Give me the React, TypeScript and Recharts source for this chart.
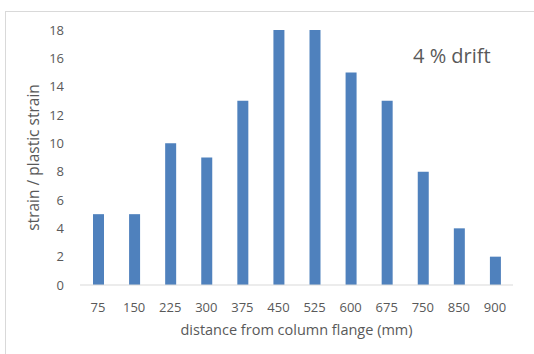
import React from 'react';
import { BarChart, Bar, XAxis, YAxis } from 'recharts';

const categories = ['75', '150', '225', '300', '375', '450', '525', '600', '675', '750', '850', '900'];
const strainRatio = [5, 5, 10, 9, 13, 18, 18, 15, 13, 8, 4, 2];
const yTicks = [0, 2, 4, 6, 8, 10, 12, 14, 16, 18];

const data = categories.map((c, i) => ({ dist: c, value: strainRatio[i] }));

const FONT = '"Open Sans", "Noto Sans", sans-serif';
const GREY = '#595959';

export default function App() {
  return (
    <div style={{ position: 'fixed', left: 0, top: 0, width: 534, height: 354, overflow: 'hidden', background: '#fff', fontFamily: FONT }}>
      <div style={{ position: 'absolute', left: 5, top: 11, width: 600, height: 400, border: '1px solid #d9d9d9', boxSizing: 'border-box' }} />
      <BarChart
        width={534}
        height={354}
        data={data}
        margin={{ top: 30, right: 21, bottom: 19, left: 20 }}
        barCategoryGap="0%"
        style={{ position: 'absolute', left: 0, top: 0 }}
      >
        <XAxis
          dataKey="dist"
          height={50}
          axisLine={{ stroke: '#d9d9d9' }}
          tickLine={false}
          tick={{ fill: GREY, fontSize: 13, fontFamily: FONT }}
          tickMargin={12}
          label={{ value: 'distance from column flange (mm)', position: 'insideBottom', offset: 0, fill: GREY, fontSize: 14.5, fontFamily: FONT }}
        />
        <YAxis
          width={60}
          domain={[0, 18]}
          ticks={yTicks}
          axisLine={false}
          tickLine={false}
          tick={{ fill: GREY, fontSize: 13, fontFamily: FONT }}
          tickMargin={10}
          label={{ value: 'strain / plastic strain', angle: -90, position: 'insideLeft', offset: 13, fill: GREY, fontSize: 15.5, fontFamily: FONT, style: { textAnchor: 'middle' } }}
        />
        <Bar dataKey="value" fill="#4f81bd" barSize={11} isAnimationActive={false} />
      </BarChart>
      <div style={{ position: 'absolute', left: 413, top: 43, fontSize: 20, color: GREY, fontFamily: FONT, lineHeight: '26px' }}>4 % drift</div>
    </div>
  );
}
